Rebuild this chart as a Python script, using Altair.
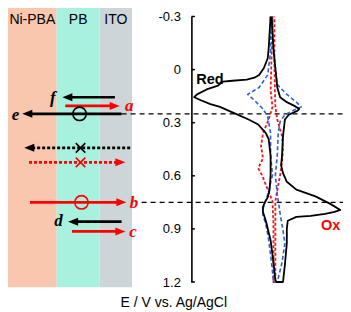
import altair as alt
import pandas as pd

# ---------------- CV curves (E in V vs Ag/AgCl, current in a.u.), traced around each loop
black_E = [-0.300, -0.119, -0.064, -0.009, 0.030, 0.046, 0.057, 0.063, 0.068, 0.090, 0.112, 0.140,
           0.156, 0.173, 0.195, 0.211, 0.249, 0.282, 0.310, 0.359, 0.392, 0.486, 0.596, 0.678,
           0.722, 0.749, 0.777, 0.804, 0.854, 0.964, 1.090, 1.189, 1.200, 1.200, 1.101, 0.980,
           0.898, 0.854, 0.832, 0.826, 0.815, 0.804, 0.793, 0.760, 0.716, 0.678, 0.634, 0.585,
           0.541, 0.486, 0.376, 0.282, 0.255, 0.233, 0.222, 0.205, 0.184, 0.156, 0.101, -0.009,
           -0.119, -0.300]
black_I = [-0.2, -0.4, -0.5, -0.9, -1.4, -1.9, -2.7, -4.2, -5.2, -5.7, -6.9, -7.9,
           -8.2, -7.5, -6.5, -5.5, -3.9, -2.5, -1.5, -0.7, -0.4, -0.2, -0.2, -0.3,
           -0.5, -0.8, -1.0, -1.0, -0.7, -0.2, 0.1, 0.3, 0.4, 1.1, 1.3, 1.5,
           1.5, 1.6, 2.5, 4.0, 5.5, 6.5, 7.1, 6.1, 4.5, 2.5, 1.5, 1.1,
           0.9, 1.0, 1.1, 1.3, 1.7, 2.6, 2.8, 2.3, 1.5, 0.8, 0.5, 0.3,
           0.1, -0.1]

blue_E = [-0.300, -0.102, 0.030, 0.101, 0.140, 0.173, 0.222, 0.266, 0.359, 0.486, 0.596, 0.705,
          0.788, 0.826, 0.870, 0.964, 1.090, 1.200, 1.200, 1.090, 0.980, 0.909, 0.815, 0.705,
          0.596, 0.486, 0.359, 0.293, 0.255, 0.233, 0.211, 0.184, 0.140, 0.085, -0.102, -0.229,
          -0.300]
blue_I = [-0.2, -0.2, -0.5, -1.4, -2.6, -1.9, -1.0, -0.5, -0.2, -0.2, 0.0, -0.5,
          -1.0, -1.0, -0.7, -0.4, -0.1, 0.1, 0.5, 1.0, 1.3, 1.1, 0.8, 0.5,
          0.3, 0.5, 0.6, 0.8, 1.3, 2.1, 3.0, 2.5, 1.5, 0.5, 0.1, 0.0,
          0.0]

red_E = [-0.300, -0.064, 0.118, 0.211, 0.282, 0.359, 0.431, 0.502, 0.557, 0.596, 0.651, 0.744,
         0.870, 1.035, 1.200, 1.200, 1.035, 0.870, 0.744, 0.651, 0.596, 0.524, 0.447, 0.376,
         0.282, 0.211, -0.009, -0.300]
red_I = [0.0, -0.1, -0.2, 0.0, -0.4, -1.0, -1.2, -1.0, -1.5, -1.1, -0.7, 0.0,
         0.1, 0.1, 0.1, 0.3, 0.3, 0.3, 0.3, 0.6, 0.8, 1.0, 1.1, 1.0,
         0.5, 0.3, 0.2, 0.2]

tick_values = [-0.3, 0.0, 0.3, 0.6, 0.9, 1.2]
guide_E = [0.25, 0.75]
guide_from = [119, 140]
guide_to = [351, 351]

# ---------------- schematic (left panel), positions in schematic units
layer_names = ["Ni-PBA", "PB", "ITO"]
layer_start = [0, 51, 96]
layer_end = [51, 96, 130]
layer_colors = ["#F9C6AE", "#A8F1DF", "#CCD6D8"]
layer_top_E = -0.348
layer_bottom_E = 1.230

arrow_label = ["f", "a", "e", "", "", "b", "d", "c"]
arrow_from = [112, 60, 119, 128, 22, 23, 119, 67]
arrow_to = [57, 117, 15, 17, 123, 124, 63, 123]
arrow_E = [0.156, 0.205, 0.25, 0.442, 0.524, 0.75, 0.859, 0.914]
arrow_color = ["black", "#FF0000", "black", "black", "#FF0000", "#FF0000", "black", "#FF0000"]
arrow_style = ["solid", "solid", "solid", "dot", "dot", "solid", "solid", "solid"]
label_x = [47, 127, 8, None, None, 132, 53, 131]
label_E = [0.160, 0.207, 0.255, None, None, 0.752, 0.855, 0.917]

marker_kind = ["circle", "cross", "cross", "circle"]
marker_x = [75, 76, 76, 77]
marker_E = [0.25, 0.442, 0.524, 0.75]
marker_color = ["black", "black", "#FF0000", "#FF0000"]

# ---------------- scales / layout
W, H = 335, 304
AXIS_X = 183.4
escale = alt.Scale(domain=[-0.3, 1.2], range=[8.5, 274.0], nice=False, zero=False)
iscale = alt.Scale(domain=[-10, 10], range=[169.0, 360.0], nice=False, zero=False)
pscale = alt.Scale(domain=[0, 351], range=[0, 335], nice=False, zero=False)
yaxis = alt.Axis(values=tick_values, offset=-AXIS_X, grid=False, domainColor="black", domainWidth=1.6,
                 ticks=False, labelPadding=11, labelFontSize=13,
                 labelFont="Liberation Sans", labelColor="black", title=None,
                 labelExpr="datum.value == 0 ? '0' : (datum.value < 0 ? '-' + format(-datum.value, '.1f') : format(datum.value, '.1f'))")


def Y(field):
    return alt.Y(field, type="quantitative", scale=escale, axis=yaxis, title=None)


bands = alt.Chart(pd.DataFrame({"name": layer_names, "x1": layer_start, "x2": layer_end,
                                "c": layer_colors, "t": layer_top_E, "b": layer_bottom_E})).mark_rect().encode(
    x=alt.X("x1:Q", scale=pscale, axis=None), x2="x2:Q",
    y=Y("t"), y2="b:Q", color=alt.Color("c:N", scale=None))

band_df = pd.DataFrame({"name": layer_names,
                        "xc": [(a + b) / 2 for a, b in zip(layer_start, layer_end)]})
band_text = alt.Chart(band_df).mark_text(fontSize=14, font="Liberation Sans", color="black",
                                         baseline="middle").encode(
    x=alt.X("xc:Q", scale=pscale, axis=None), y=alt.value(12), text="name:N")

guides = alt.Chart(pd.DataFrame({"E": guide_E, "x1": guide_from, "x2": guide_to})).mark_rule(
    color="black", strokeWidth=1.3, strokeDash=[5, 4]).encode(
    x=alt.X("x1:Q", scale=pscale, axis=None), x2="x2:Q", y=Y("E"))

ticks = alt.Chart(pd.DataFrame({"v": tick_values})).mark_rule(color="black", strokeWidth=1.5).encode(
    x=alt.value(AXIS_X), x2=alt.value(AXIS_X + 3.5), y=Y("v"))


def curve(E, I, color, width, dash=None):
    kw = dict(color=color, strokeWidth=width, strokeJoin="round")
    if dash is not None:
        kw["strokeDash"] = dash
    df = pd.DataFrame({"E": E, "I": I, "k": list(range(len(E)))})
    return alt.Chart(df).mark_line(**kw).encode(
        x=alt.X("I:Q", scale=iscale, axis=None), y=Y("E"), order="k:Q")


c_red = curve(red_E, red_I, "#F01818", 1.8, [3, 2])
c_blue = curve(blue_E, blue_I, "#2F5FDA", 1.6, [4, 2.5])
c_black = curve(black_E, black_I, "black", 1.8)

arrows = pd.DataFrame({"x1": arrow_from, "tip": arrow_to, "E": arrow_E, "c": arrow_color,
                       "s": arrow_style})
arrows["x2"] = [t + (6 if t < f else -6) for f, t in zip(arrow_from, arrow_to)]
arrows["dir"] = ["left" if t < f else "right" for f, t in zip(arrow_from, arrow_to)]

shafts = alt.Chart(arrows).mark_rule(strokeWidth=2.6).encode(
    x=alt.X("x1:Q", scale=pscale, axis=None), x2="x2:Q", y=Y("E"),
    color=alt.Color("c:N", scale=None),
    strokeDash=alt.StrokeDash("s:N", scale=alt.Scale(domain=["solid", "dot"], range=[[1, 0], [3, 2]]),
                              legend=None))
heads = alt.Chart(arrows).mark_point(filled=True, opacity=1, size=100, strokeWidth=0).encode(
    x=alt.X("tip:Q", scale=pscale, axis=None), y=Y("E"),
    color=alt.Color("c:N", scale=None),
    shape=alt.Shape("dir:N", scale=alt.Scale(domain=["left", "right"],
                                             range=["M0,0L2,-0.8L2,0.8Z", "M0,0L-2,-0.8L-2,0.8Z"]),
                    legend=None))

markers = alt.Chart(pd.DataFrame({"k": marker_kind, "x": marker_x, "E": marker_E, "c": marker_color})).mark_point(
    filled=False, opacity=1, strokeWidth=1.6).encode(
    x=alt.X("x:Q", scale=pscale, axis=None), y=Y("E"),
    color=alt.Color("c:N", scale=None),
    shape=alt.Shape("k:N", scale=alt.Scale(domain=["circle", "cross"],
                                           range=["circle", "M-1,-1L1,1M-1,1L1,-1"]), legend=None),
    size=alt.Size("k:N", scale=alt.Scale(domain=["circle", "cross"], range=[180, 90]), legend=None))

lab_df = pd.DataFrame({"t": arrow_label, "x": label_x, "E": label_E, "c": arrow_color})
lab_df = lab_df[lab_df["t"] != ""]
arrow_text = alt.Chart(lab_df).mark_text(font="Liberation Serif", fontStyle="italic", fontWeight="bold",
                                         fontSize=17, baseline="middle", align="center").encode(
    x=alt.X("x:Q", scale=pscale, axis=None), y=Y("E"), text="t:N",
    color=alt.Color("c:N", scale=None))

curve_labels = alt.Chart(pd.DataFrame({"t": ["Red", "Ox"], "I": [-6.55, 6.1], "E": [0.057, 0.881],
                                       "c": ["black", "#FF0000"]})).mark_text(
    font="Liberation Sans", fontWeight="bold", fontSize=14.5, baseline="middle", align="center").encode(
    x=alt.X("I:Q", scale=iscale, axis=None), y=Y("E"), text="t:N", color=alt.Color("c:N", scale=None))

title = alt.Chart(pd.DataFrame({"t": ["E / V vs. Ag/AgCl"]})).mark_text(
    font="Liberation Sans", fontSize=14, color="black", baseline="middle", align="center").encode(
    x=alt.value(165.7), y=alt.value(295), text="t:N")

chart = alt.layer(bands, band_text, guides, ticks, c_red, c_blue, c_black, shafts, heads, markers,
                  arrow_text, curve_labels, title).resolve_scale(
    x="independent", color="independent", shape="independent", size="independent",
    strokeDash="independent").properties(
    width=W, height=H, padding=0, autosize=alt.AutoSizeParams(type="none")).configure_view(stroke=None)

chart.save("out.html", embed_options={"renderer": "svg", "actions": False})
